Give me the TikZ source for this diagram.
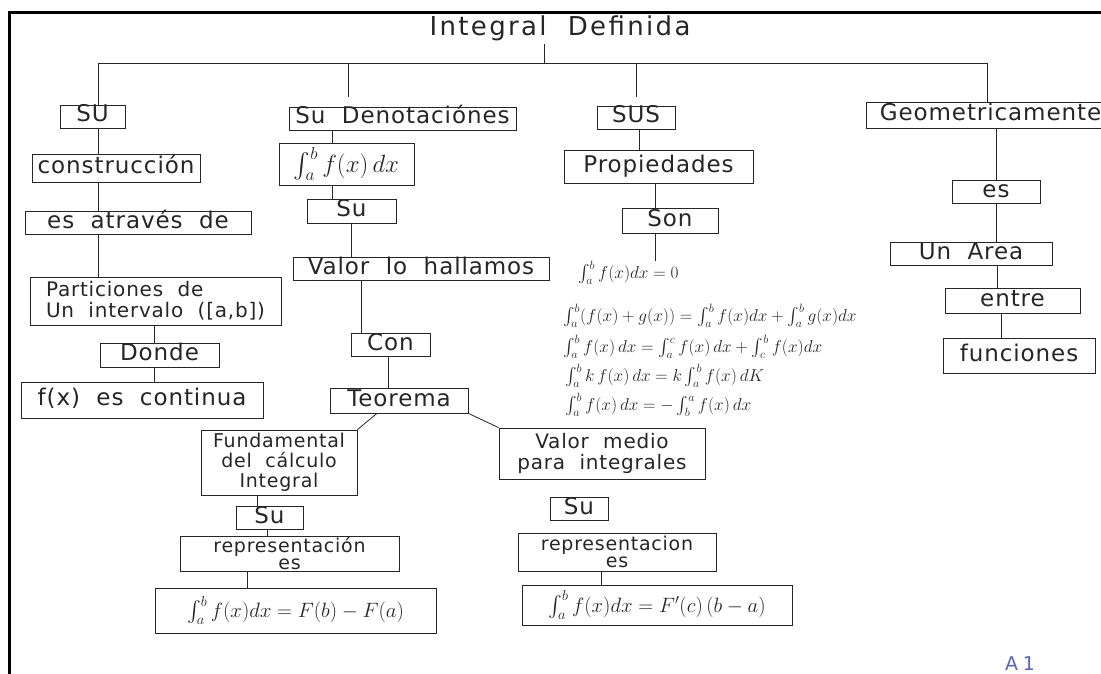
\documentclass[tikz,border=0pt]{standalone}
\usepackage{exscale}
\usepackage{fontspec}
\setmainfont{DejaVu Sans}[LetterSpace=4,WordSpace=2]
\usepackage{tikz}

\newcommand\hand{\fontsize{23}{23}\selectfont}
\newcommand\handsm{\fontsize{20}{21}\selectfont}

\begin{document}
\begin{tikzpicture}[x=1pt,y=1pt,yscale=-1,
        box/.style={draw=black!85, line width=0.8pt, inner sep=1pt, text=black!85, font=\hand},
        one/.style={box, text height=16pt, text depth=5pt},
        two/.style={box, align=center, font=\handsm},
        link/.style={draw=black!85, line width=0.8pt},
        prop/.style={anchor=west, inner sep=0pt, text=black!85, font=\fontsize{18.5}{18.5}\selectfont}]

        \useasboundingbox (0,0) rectangle (1101,674);
        % edge of the scanned sheet
        \draw [line width=3pt] (8,13) -- (1101,13);
        \draw [line width=3pt] (9,13) -- (9,674);

        \node [text=black!85, font=\fontsize{26}{26}\selectfont\addfontfeature{LetterSpace=9}] (title) at (560,28) {Integral Definida};

        % main bar
        \coordinate (barL) at (98,63);
        \coordinate (barR) at (987,63);
        \coordinate (c2) at (348,63);
        \coordinate (c2end) at (348,97);
        \coordinate (c3) at (636,63);
        \coordinate (c3end) at (636,97);

        % first column
        \node [one, minimum width=65, minimum height=21] (su1) at (92.5,116.5) {SU};
        \node [one, minimum width=168, minimum height=28] (constr) at (116,168) {construcción};
        \node [one, minimum width=226, minimum height=22] (atraves) at (138,223) {es através de};
        \node [two, minimum width=251, minimum height=48, align=left] (partic) at (155.5,301) {Particiones de\\Un intervalo ([a,b])};
        \node [one, minimum width=119, minimum height=24] (donde) at (159.5,355) {Donde};
        \node [one, minimum width=242, minimum height=36] (fcont) at (142,400) {f(x) es continua};

        % second column
        \node [one, minimum width=227, minimum height=23] (denot) at (402.5,118.5) {Su Denotaciónes};
        \node [box, minimum width=135, minimum height=42, font=\fontsize{24}{24}\selectfont] (intbox) at (346.5,164) {$\int_a^b f(x)\,dx$};
        \node [one, minimum width=89, minimum height=24] (su2) at (351.5,211) {Su};
        \node [one, minimum width=256, minimum height=22] (valor) at (421,268.5) {Valor lo hallamos};
        \node [one, minimum width=79, minimum height=22] (con) at (390.5,344.5) {Con};
        \node [one, minimum width=138, minimum height=25] (teo) at (399,400.5) {Teorema};
        \node [two, minimum width=156, minimum height=65, font=\fontsize{19}{20}\selectfont] (fund) at (279,462.5) {Fundamental\\del cálculo\\Integral};
        \node [one, minimum width=67, minimum height=23] (su4) at (269.5,517.5) {Su};
        \node [two, minimum width=219, minimum height=34, font=\fontsize{19}{17}\selectfont] (rep1) at (289.5,554) {representación\\es};
        \node [box, minimum width=281, minimum height=45, font=\fontsize{22}{22}\selectfont] (ftc) at (295.5,610.5) {$\int_a^b f(x)dx=F(b)-F(a)$};

        % mean value branch
        \node [two, minimum width=206, minimum height=51] (valmed) at (602,453.5) {Valor medio\\para integrales};
        \node [one, minimum width=58, minimum height=21] (su5) at (579,508.5) {Su};
        \node [two, minimum width=198, minimum height=38, font=\fontsize{19}{17}\selectfont] (rep2) at (617,552) {representacion\\es};
        \node [box, minimum width=270, minimum height=40, font=\fontsize{22}{22}\selectfont] (mvt) at (657,605) {$\int_a^b f(x)dx=F'(c)\,(b-a)$};

        % third column
        \node [one, minimum width=78, minimum height=21] (sus) at (636,117.5) {SUS};
        \node [one, minimum width=189, minimum height=33] (prop) at (658.5,166.5) {Propiedades};
        \node [one, minimum width=96, minimum height=25] (son) at (670,220.5) {Son};
        \node [prop] (p1) at (578,273) {$\int_a^b f(x)dx=0$};
        \node [prop] (p2) at (563,316) {$\int_a^b(f(x)+g(x))=\int_a^b f(x)dx+\int_a^b g(x)dx$};
        \node [prop] (p3) at (563,347) {$\int_a^b f(x)\,dx=\int_a^c f(x)\,dx+\int_c^b f(x)dx$};
        \node [prop] (p4) at (565,376) {$\int_a^b k\,f(x)\,dx=k\int_a^b f(x)\,dK$};
        \node [prop] (p5) at (565,405) {$\int_a^b f(x)\,dx=-\int_b^a f(x)\,dx$};

        % fourth column
        \node [one, minimum width=249, minimum height=26] (geom) at (990.5,115) {Geometricamente};
        \node [one, minimum width=88, minimum height=21] (es) at (996,191.5) {es};
        \node [one, minimum width=162, minimum height=23] (area) at (971,253.5) {Un Area};
        \node [one, minimum width=135, minimum height=25] (entre) at (1012.5,300.5) {entre};
        \node [one, minimum width=152, minimum height=35] (func) at (1019,355.5) {funciones};

        \node [text={rgb,255:red,90;green,100;blue,185}, font=\fontsize{19}{19}\selectfont\addfontfeature{LetterSpace=25}] (sheet) at (1020,664) {A1};

        % connectors
        \draw [link] ([xshift=-16pt]title.south) -- ([xshift=-16pt]title.south |- barL);
        \draw [link] (barL) -- (barR);
        \draw [link] (barL) -- (barL |- su1.north);
        \draw [link] (barL |- su1.south) -- (barL |- constr.north);
        \draw [link] (barL |- constr.south) -- (barL |- atraves.north);
        \draw [link] (barL |- atraves.south) -- (barL |- partic.north);
        \draw [link] ([xshift=-5pt]donde.north |- partic.south) -- ([xshift=-5pt]donde.north);
        \draw [link] ([xshift=-5pt]donde.south) -- ([xshift=-5pt]donde.south |- fcont.north);

        \draw [link] (c2) -- (c2end);
        \draw [link] ([xshift=-14pt]intbox.north |- denot.south) -- ([xshift=-14pt]intbox.north);
        \draw [link] ([xshift=-14pt]intbox.south) -- ([xshift=-14pt]intbox.south |- su2.north);
        \draw [link] (su2.south) -- (su2.south |- valor.north);
        \draw [link] ([xshift=-29pt]con.north |- valor.south) -- ([xshift=-29pt]con.north);
        \draw [link] ([xshift=-2pt]con.south) -- ([xshift=-2pt]con.south |- teo.north);
        \draw [link] ([xshift=-22pt]teo.south) -- (fund.north east);
        \draw [link] (teo.south east) -- (valmed.north west);
        \draw [link] ([xshift=-22pt]fund.south) -- ([xshift=-22pt]fund.south |- su4.north);
        \draw [link] ([xshift=-2pt]su4.south) -- ([xshift=-2pt]su4.south |- rep1.north);
        \draw [link] ([xshift=-42pt]rep1.south) -- ([xshift=-42pt]rep1.south |- ftc.north);
        \draw [link] ([xshift=-16pt]rep2.south) -- ([xshift=-16pt]rep2.south |- mvt.north);

        \draw [link] (c3) -- (c3end);
        \draw [link] ([xshift=3pt]sus.south) -- ([xshift=3pt]sus.south |- prop.north);
        \draw [link] ([xshift=-15pt]son.north |- prop.south) -- ([xshift=-15pt]son.north);
        \draw [link] ([xshift=-15pt]son.south) -- ([xshift=-15pt]son.south |- p1.north);

        \draw [link] (barR) -- (barR |- geom.north);
        \draw [link] (es.north |- geom.south) -- (es.north);
        \draw [link] (es.south) -- (es.south |- area.north);
        \draw [link] ([xshift=26pt]area.south) -- ([xshift=26pt]area.south |- entre.north);
        \draw [link] ([xshift=-11pt]entre.south) -- ([xshift=-11pt]entre.south |- func.north);
\end{tikzpicture}
\end{document}
